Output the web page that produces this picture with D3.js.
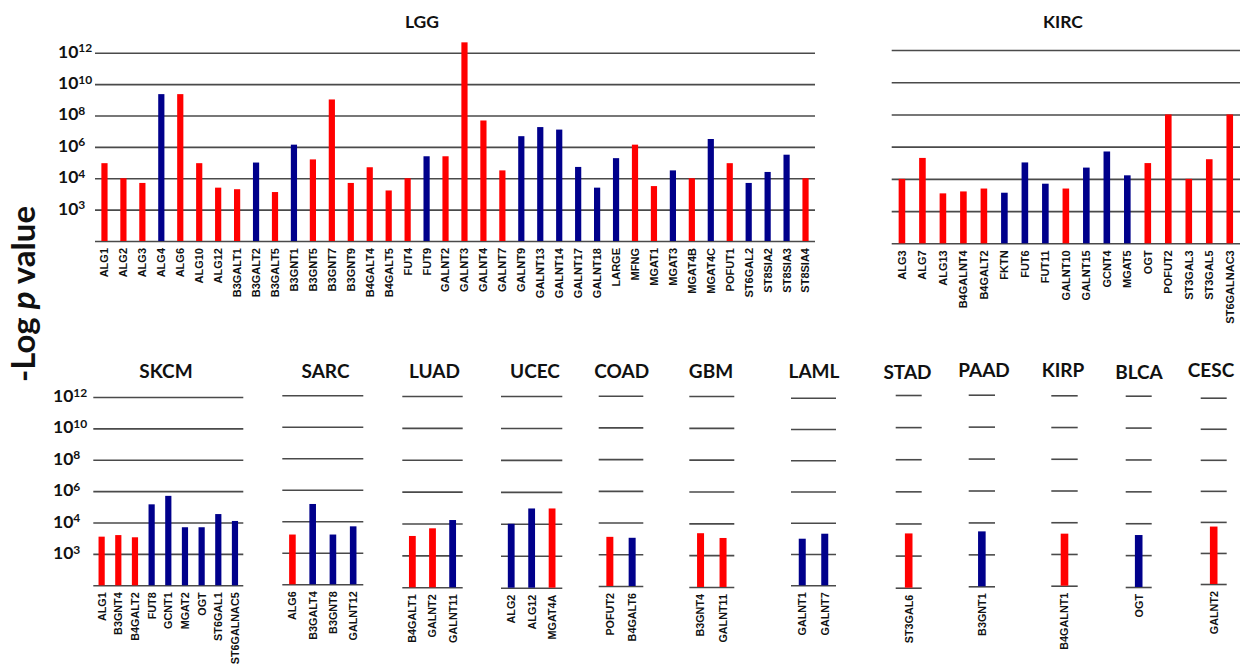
<!DOCTYPE html>
<html>
<head>
<meta charset="utf-8">
<script src="https://cdn.jsdelivr.net/npm/d3@7"></script>
<style>
  body { margin: 0; background: #fff; }
  svg { display: block; }
</style>
</head>
<body>
<div id="wrapper"></div>
<script>
/*global d3*/

// 1. Data (bar height in grid steps, 0 = baseline, 6 = 10^12 line)

const tickSteps = [0, 1, 2, 3, 4, 5, 6]
const tickExponents = ["", "3", "4", "6", "8", "10", "12"]

const lggGenes = ["ALG1", "ALG2", "ALG3", "ALG4", "ALG6", "ALG10", "ALG12", "B3GALT1", "B3GALT2", "B3GALT5",
    "B3GNT1", "B3GNT5", "B3GNT7", "B3GNT9", "B4GALT4", "B4GALT5", "FUT4", "FUT9", "GALNT2", "GALNT3",
    "GALNT4", "GALNT7", "GALNT9", "GALNT13", "GALNT14", "GALNT17", "GALNT18", "LARGE", "MFNG", "MGAT1",
    "MGAT3", "MGAT4B", "MGAT4C", "POFUT1", "ST6GAL2", "ST8SIA2", "ST8SIA3", "ST8SIA4"]
const lggValues = [2.48, 2.0, 1.85, 4.68, 4.68, 2.48, 1.70, 1.65, 2.5, 1.56,
    3.07, 2.6, 4.51, 1.85, 2.35, 1.61, 2.0, 2.70, 2.70, 6.33,
    3.84, 2.25, 3.34, 3.63, 3.55, 2.36, 1.70, 2.64, 3.07, 1.75,
    2.25, 2.0, 3.25, 2.48, 1.85, 2.2, 2.75, 2.0]
const lggDir = ["up", "up", "up", "down", "up", "up", "up", "up", "down", "up",
    "down", "up", "up", "up", "up", "up", "up", "down", "up", "up",
    "up", "up", "down", "down", "down", "down", "down", "down", "up", "up",
    "down", "up", "down", "up", "down", "down", "down", "up"]

const kircGenes = ["ALG3", "ALG7", "ALG13", "B4GALNT4", "B4GALT2", "FKTN", "FUT6", "FUT11", "GALNT10",
    "GALNT15", "GCNT4", "MGAT5", "OGT", "POFUT2", "ST3GAL3", "ST3GAL5", "ST6GALNAC3"]
const kircValues = [2.0, 2.65, 1.55, 1.61, 1.7, 1.57, 2.51, 1.85, 1.7, 2.35, 2.85, 2.11, 2.49, 4.0, 2.0, 2.61, 4.0]
const kircDir = ["up", "up", "up", "up", "up", "down", "down", "down", "up",
    "down", "down", "down", "up", "up", "up", "up", "up"]

const skcmGenes = ["ALG1", "B3GNT4", "B4GALT2", "FUT8", "GCNT1", "MGAT2", "OGT", "ST6GAL1", "ST6GALNAC5"]
const skcmValues = [1.55, 1.60, 1.53, 2.58, 2.85, 1.85, 1.85, 2.27, 2.05]
const skcmDir = ["up", "up", "up", "down", "down", "down", "down", "down", "down"]

const sarcGenes = ["ALG6", "B3GALT4", "B3GNT8", "GALNT12"]
const sarcValues = [1.58, 2.55, 1.58, 1.84]
const sarcDir = ["up", "down", "down", "down"]

const luadGenes = ["B4GALT1", "GALNT2", "GALNT11"]
const luadValues = [1.61, 1.85, 2.11]
const luadDir = ["up", "up", "down"]

const ucecGenes = ["ALG2", "ALG12", "MGAT4A"]
const ucecValues = [2.0, 2.48, 2.48]
const ucecDir = ["down", "down", "up"]

const coadGenes = ["POFUT2", "B4GALT6"]
const coadValues = [1.55, 1.52]
const coadDir = ["up", "down"]

const gbmGenes = ["B3GNT4", "GALNT11"]
const gbmValues = [1.69, 1.54]
const gbmDir = ["up", "up"]

const lamlGenes = ["GALNT1", "GALNT7"]
const lamlValues = [1.49, 1.65]
const lamlDir = ["down", "down"]

const stadGenes = ["ST3GAL6"]
const stadValues = [1.69]
const stadDir = ["up"]

const paadGenes = ["B3GNT1"]
const paadValues = [1.72]
const paadDir = ["down"]

const kirpGenes = ["B4GALNT1"]
const kirpValues = [1.64]
const kirpDir = ["up"]

const blcaGenes = ["OGT"]
const blcaValues = [1.63]
const blcaDir = ["down"]

const cescGenes = ["GALNT2"]
const cescValues = [1.85]
const cescDir = ["up"]


// 2. chart dims

const dims = { width: 1240, height: 667 }

const colorScale = d3.scaleOrdinal()
    .domain(["up", "down"])
    .range(["#ff0000", "#00008b"])

const panels = [
    { title: "LGG", genes: lggGenes, values: lggValues, dir: lggDir, x0: 95, x1: 815, yBase: 241, yTop: 52.7, tx: 422, ty: 28, barW: 6.2, labels: 58, font: 17.5, lab: 11 },
    { title: "KIRC", genes: kircGenes, values: kircValues, dir: kircDir, x0: 891.7, x1: 1240, yBase: 243.3, yTop: 50, tx: 1063, ty: 28, barW: 6.6, font: 17.5, lab: 11 },
    { title: "SKCM", genes: skcmGenes, values: skcmValues, dir: skcmDir, x0: 93.3, x1: 243.3, yBase: 585.3, yTop: 397, tx: 166, ty: 378, barW: 6.2, labels: 53, font: 19, lab: 10.8 },
    { title: "SARC", genes: sarcGenes, values: sarcValues, dir: sarcDir, x0: 282.3, x1: 363.3, yBase: 584.3, yTop: 395.3, tx: 325.5, ty: 378, barW: 6.6, font: 19, lab: 10.8 },
    { title: "LUAD", genes: luadGenes, values: luadValues, dir: luadDir, x0: 402.3, x1: 462.7, yBase: 587.3, yTop: 396, tx: 434.5, ty: 378, barW: 6.8, font: 19, lab: 10.8 },
    { title: "UCEC", genes: ucecGenes, values: ucecValues, dir: ucecDir, x0: 501, x1: 562.3, yBase: 587.7, yTop: 396, tx: 535, ty: 378, barW: 6.8, font: 19, lab: 10.8 },
    { title: "COAD", genes: coadGenes, values: coadValues, dir: coadDir, x0: 598.7, x1: 643.3, yBase: 586, yTop: 395.7, tx: 621.7, ty: 378, barW: 7, font: 19, lab: 10.8 },
    { title: "GBM", genes: gbmGenes, values: gbmValues, dir: gbmDir, x0: 689.3, x1: 734.3, yBase: 587, yTop: 396, tx: 711, ty: 378, barW: 7, font: 19, lab: 10.8 },
    { title: "LAML", genes: lamlGenes, values: lamlValues, dir: lamlDir, x0: 791, x1: 836, yBase: 585.3, yTop: 397.7, tx: 814, ty: 378, barW: 7, font: 19, lab: 10.8 },
    { title: "STAD", genes: stadGenes, values: stadValues, dir: stadDir, x0: 895.7, x1: 921.7, yBase: 587.7, yTop: 395, tx: 907.5, ty: 379, barW: 7.6, font: 19, lab: 10.8 },
    { title: "PAAD", genes: paadGenes, values: paadValues, dir: paadDir, x0: 968.7, x1: 995, yBase: 586.3, yTop: 394.7, tx: 984, ty: 376.5, barW: 7.6, font: 19, lab: 10.8 },
    { title: "KIRP", genes: kirpGenes, values: kirpValues, dir: kirpDir, x0: 1051.3, x1: 1077.7, yBase: 585.7, yTop: 395.3, tx: 1063, ty: 377, barW: 7.6, font: 19, lab: 10.8 },
    { title: "BLCA", genes: blcaGenes, values: blcaValues, dir: blcaDir, x0: 1125.7, x1: 1151.7, yBase: 587, yTop: 395.7, tx: 1139, ty: 379, barW: 7.6, font: 19, lab: 10.8 },
    { title: "CESC", genes: cescGenes, values: cescValues, dir: cescDir, x0: 1200.7, x1: 1226.7, yBase: 584, yTop: 397.7, tx: 1211, ty: 377, barW: 7.6, font: 19, lab: 10.8 },
]


// 3. draw canvas

const wrapper = d3.select("#wrapper")
    .append("svg")
    .attr("width", dims.width)
    .attr("height", dims.height)
    .style("font-family", "Lato, 'Open Sans', sans-serif")

wrapper.append("rect")
    .attr("width", dims.width)
    .attr("height", dims.height)
    .attr("fill", "#fff")


// 4. each panel: scales, grid, bars, labels

function drawPanel(p) {
    const xScale = d3.scaleBand()
        .domain(p.genes)
        .range([p.x0, p.x1])

    const yScale = d3.scaleLinear()
        .domain([0, 6])
        .range([p.yBase, p.yTop])

    const g = wrapper.append("g")

    // grid lines via axis
    const gridGenerator = d3.axisLeft(yScale)
        .tickValues(tickSteps)
        .tickSize(-(p.x1 - p.x0))
        .tickFormat("")

    const grid = g.append("g")
        .attr("transform", `translate(${p.x0},0)`)
        .call(gridGenerator)
    grid.select(".domain").remove()
    grid.selectAll(".tick line")
        .attr("stroke", "#4a4a4a")
        .attr("stroke-width", 1.6)

    // bars
    const rows = p.genes.map((gene, i) => ({ gene: gene, value: p.values[i], dir: p.dir[i] }))

    g.selectAll("rect.bar")
        .data(rows)
        .join("rect")
        .attr("class", "bar")
        .attr("x", d => xScale(d.gene) + xScale.bandwidth() / 2 - p.barW / 2)
        .attr("y", d => yScale(d.value))
        .attr("width", p.barW)
        .attr("height", d => yScale(0) - yScale(d.value))
        .attr("fill", d => colorScale(d.dir))

    // x labels (rotated)
    g.selectAll("text.gene")
        .data(rows)
        .join("text")
        .attr("class", "gene")
        .attr("transform", d => `translate(${xScale(d.gene) + xScale.bandwidth() / 2},${p.yBase + 7}) rotate(-90)`)
        .attr("dy", "0.36em")
        .attr("text-anchor", "end")
        .style("font-family", "'Liberation Sans', Arial, sans-serif")
        .style("font-weight", "bold")
        .style("font-size", p.lab + "px")
        .attr("fill", "#111")
        .text(d => d.gene)

    // title
    g.append("text")
        .attr("x", p.tx)
        .attr("y", p.ty)
        .attr("text-anchor", "middle")
        .style("font-weight", "bold")
        .style("font-size", p.font + "px")
        .attr("fill", "#111")
        .text(p.title)

    // y tick labels (10^n)
    if (p.labels) {
        const ticks = tickSteps.map((s, i) => ({ step: s, exp: tickExponents[i] }))
            .filter(d => d.exp !== "")
        const lab = g.selectAll("text.ytick")
            .data(ticks)
            .join("text")
            .attr("class", "ytick")
            .attr("x", p.labels)
            .attr("y", d => yScale(d.step) + 5)
            .style("font-weight", "bold")
            .style("font-size", "17.5px")
            .attr("fill", "#111")
        lab.append("tspan").text("10")
        lab.append("tspan")
            .attr("dy", "-0.45em")
            .style("font-size", "12px")
            .text(d => d.exp)
    }
}

panels.forEach(drawPanel)

// y axis title
const yTitle = wrapper.append("text")
    .attr("transform", "translate(35,294) rotate(-90)")
    .attr("text-anchor", "middle")
    .style("font-weight", "bold")
    .style("font-size", "33px")
    .attr("fill", "#111")
yTitle.append("tspan").text("-Log ")
yTitle.append("tspan").style("font-style", "italic").text("p")
yTitle.append("tspan").text(" value")

</script>
</body>
</html>
